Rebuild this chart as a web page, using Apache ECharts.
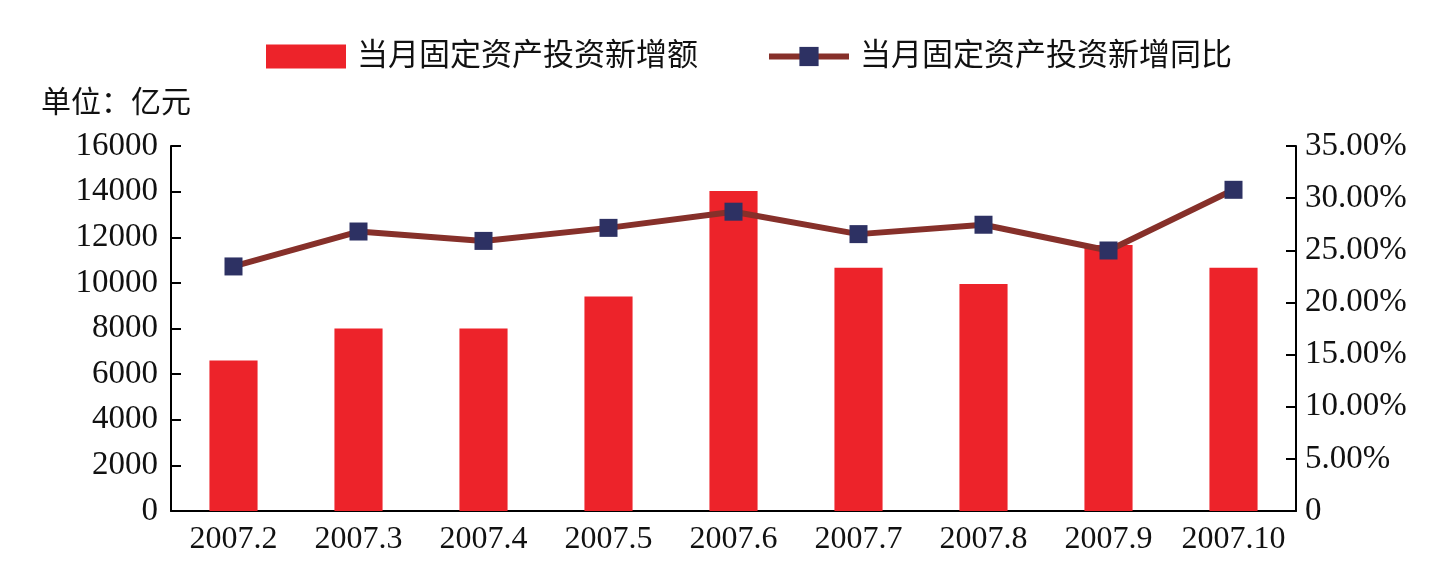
<!DOCTYPE html>
<html><head><meta charset="utf-8">
<script src="https://cdn.jsdelivr.net/npm/echarts@6/dist/echarts.min.js"></script>
<style>html,body{margin:0;padding:0;background:#fff}#c{width:1452px;height:580px}</style>
</head><body><div id="c"></div>
<script>
var categories = ['2007.2','2007.3','2007.4','2007.5','2007.6','2007.7','2007.8','2007.9','2007.10'];
var newInvestment = [6600, 8000, 8000, 9400, 14030, 10660, 9950, 11660, 10660];
var yoyRatio = [23.45, 26.8, 25.9, 27.15, 28.7, 26.55, 27.45, 24.98, 30.8];
var leftTicks = [0, 2000, 16000];
var barName = '当月固定资产投资新增额';
var lineName = '当月固定资产投资新增同比';
var unitLabel = '单位：亿元';

var FONT = '"Liberation Serif", "Noto Sans CJK SC", serif';
var chart = echarts.init(document.getElementById('c'));
chart.setOption({
  backgroundColor: '#fff',
  animation: false,
  title: {
    text: unitLabel, left: 36, top: 84,
    textStyle: {fontFamily: FONT, fontSize: 30, fontWeight: 'normal', color: '#111'}
  },
  legend: {
    top: 36, left: 261, itemGap: 68, itemWidth: 80, itemHeight: 24,
    textStyle: {fontFamily: FONT, fontSize: 31, color: '#111', padding: [0,0,0,6]},
    data: [
      {name: barName, icon: 'rect'},
      {name: lineName, lineStyle: {width: 6, color: '#86302A'}}
    ]
  },
  grid: {left: 171, right: 156, top: 146, bottom: 69},
  xAxis: {
    type: 'category', data: categories,
    axisLine: {lineStyle: {color: '#000', width: 2}},
    axisTick: {inside: true, length: 10, lineStyle: {color: '#000', width: 2}},
    axisLabel: {fontFamily: FONT, fontSize: 32, color: '#111', margin: 13, interval: 0}
  },
  yAxis: [{
    type: 'value', min: leftTicks[0], max: leftTicks[2], interval: leftTicks[1],
    splitLine: {show: false},
    axisLine: {show: true, lineStyle: {color: '#000', width: 2}},
    axisTick: {show: true, inside: true, length: 10, lineStyle: {color: '#000', width: 2}},
    axisLabel: {fontFamily: FONT, fontSize: 33, color: '#111', margin: 13,
      formatter: function (v) { return String(v); }}
  }, {
    type: 'value', min: 0, max: 35, interval: 5,
    splitLine: {show: false},
    axisLine: {show: true, lineStyle: {color: '#000', width: 2}},
    axisTick: {show: true, inside: true, length: 10, lineStyle: {color: '#000', width: 2}},
    axisLabel: {fontFamily: FONT, fontSize: 33, color: '#111', margin: 9,
      formatter: function (v) { return v === 0 ? '0' : v.toFixed(2) + '%'; }}
  }],
  series: [{
    name: barName, type: 'bar', data: newInvestment, barWidth: '38.5%',
    itemStyle: {color: '#ED232A'}
  }, {
    name: lineName, type: 'line', yAxisIndex: 1, data: yoyRatio,
    symbol: 'rect', symbolSize: 18,
    lineStyle: {color: '#86302A', width: 6},
    itemStyle: {color: '#2D3163', borderWidth: 0}
  }]
});
</script></body></html>
